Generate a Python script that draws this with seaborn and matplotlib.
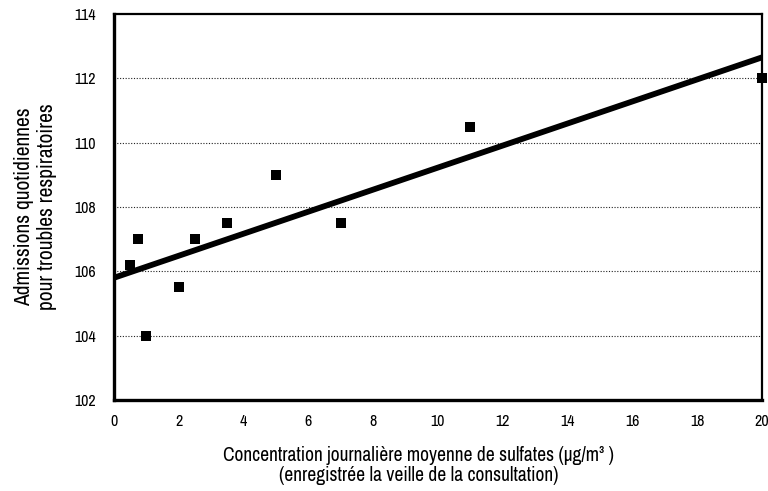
import matplotlib
matplotlib.use("Agg")
import matplotlib.pyplot as plt
from matplotlib import font_manager as fm
import seaborn as sns
import pandas as pd

sulfate = [0.5, 0.75, 1.0, 2.0, 2.5, 3.5, 5.0, 7.0, 11.0, 20.0]
admissions = [106.2, 107.0, 104.0, 105.5, 107.0, 107.5, 109.0, 107.5, 110.5, 112.0]
fit_x = [0, 20]
fit_y = [105.8, 112.65]
x_ticks = [0, 2, 4, 6, 8, 10, 12, 14, 16, 18, 20]
y_ticks = [102, 104, 106, 108, 110, 112, 114]

sns.set_theme(style="white")

names = sorted({f.name for f in fm.fontManager.ttflist})
narrow = [n for n in names if "Narrow" in n or "Condensed" in n]
fam = []
if "Liberation Sans Narrow" in names:
    fam.append("Liberation Sans Narrow")
fam += [n for n in narrow if n not in fam]
fam += ["Liberation Sans", "DejaVu Sans"]
plt.rcParams['font.family'] = fam

fig = plt.figure(figsize=(7.68, 4.91), dpi=100)
ax = fig.add_axes([0.1484, 0.1853, 0.8436, 0.7862])

pts = pd.DataFrame({"x": sulfate, "y": admissions})
line = pd.DataFrame({"x": fit_x, "y": fit_y})

for yv in y_ticks[1:-1]:
    ax.axhline(yv, color="#222222", lw=0.8, ls=(0, (1, 1.5)), zorder=1)

sns.lineplot(data=line, x="x", y="y", ax=ax, color="black", lw=4.2, zorder=3)
sns.scatterplot(data=pts, x="x", y="y", ax=ax, marker="s", s=60,
                color="black", edgecolor="black", linewidth=0, zorder=4)
for c in ax.collections:
    c.set_clip_on(False)

ax.set_xlim(0, 20)
ax.set_ylim(102, 114)
ax.set_xticks(x_ticks)
ax.set_yticks(y_ticks)
ax.set_xticklabels([str(t) for t in x_ticks], fontsize=11.5, color="black")
ax.set_yticklabels([str(t) for t in y_ticks], fontsize=11.5, color="black")
ax.tick_params(axis="x", direction="in", length=7, width=1, color="#444444", pad=10)
ax.tick_params(axis="y", length=0, pad=13)

for side in ["left", "bottom"]:
    ax.spines[side].set_linewidth(2.4)
for side in ["top", "right"]:
    ax.spines[side].set_linewidth(1.6)
for s in ax.spines.values():
    s.set_color("black")
    s.set_zorder(5)

ax.set_xlabel("Concentration journalière moyenne de sulfates (µg/m³ )\n(enregistrée la veille de la consultation)",
              fontsize=14, labelpad=12, linespacing=1.1, color="black")
ax.xaxis.label.set_x(0.47)
ax.set_ylabel("Admissions quotidiennes\npour troubles respiratoires",
              fontsize=15.5, labelpad=12, linespacing=1.2, color="black")

fig.savefig("out.png", dpi=100)
